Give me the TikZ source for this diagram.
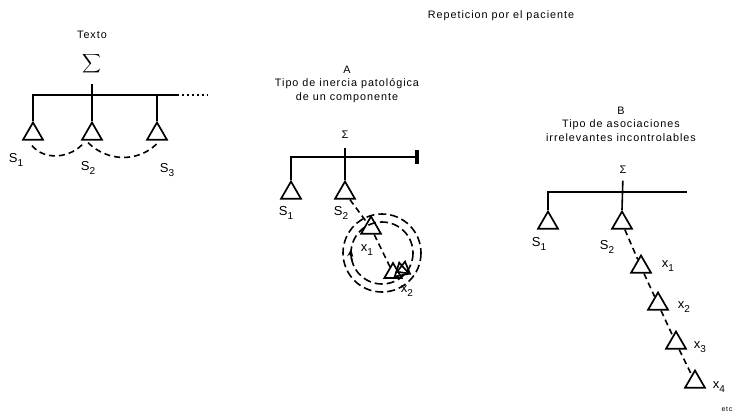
\documentclass[tikz,border=0pt]{standalone}
\usepackage{fontspec}
\usepackage{graphicx}
\setmainfont{Liberation Sans}[LetterSpace=9]
\newfontfamily\labfont{Liberation Sans}
\usetikzlibrary{shapes.geometric,arrows.meta}

% etiqueta con subindice
\newcommand{\lbl}[2]{{\labfont\fontsize{13}{13}\selectfont #1\raisebox{-3.5pt}{\fontsize{10}{10}\selectfont #2}}}

\begin{document}
\begin{tikzpicture}[x=1pt, y=-1pt, line width=1.6pt,
  tri/.style={draw, regular polygon, regular polygon sides=3, minimum size=23pt, inner sep=0pt, line width=1.7pt},
  lab/.style={inner sep=0pt},
  head/.style={font=\fontsize{10.8}{13.5}\selectfont, align=center, inner sep=0pt},
  sig/.style={inner sep=0pt, font=\labfont\fontsize{11}{11}\selectfont},
  chain/.style={dash pattern=on 6pt off 4pt, line width=1.6pt}]
  \useasboundingbox (0,0) rectangle (738,416);

  \node[head] (title) at (501,16) {Repeticion por el paciente};

  % izquierda: Texto
  \node[head] (texto) at (92,35) {Texto};
  \node[inner sep=0pt] (lsig) at (92,64) {\resizebox*{!}{21pt}{$\displaystyle\sum$}};
  \node[tri] (ls1) at (33,134) {};
  \node[tri] (ls2) at (92,134) {};
  \node[tri] (ls3) at (157,134) {};
  \coordinate (lend) at (177,95);
  \coordinate (ldots) at (208,95);
  \draw (ls1.north) |- (lend);
  \draw[shorten <=9pt] (lsig.south) -- (ls2.north);
  \draw (ls3.north) -- (ls3.north |- lend);
  \draw[dash pattern=on 1.5pt off 3.5pt] (lend) -- (ldots);
  % arcos
  \draw[chain] ([xshift=-1pt,yshift=-5pt]ls1.south) to[out=-50, in=-130] ([xshift=-8pt,yshift=-2pt]ls2.south);
  \draw[chain] ([xshift=-4pt,yshift=-2pt]ls2.south) to[out=-45, in=-135] ([yshift=-3pt]ls3.south);
  \node[lab] (ls1l) at (16,160) {\lbl{S}{1}};
  \node[lab] (ls2l) at (88,168) {\lbl{S}{2}};
  \node[lab] (ls3l) at (167,170) {\lbl{S}{3}};

  % A
  \node[head] (ahead) at (347,84) {A\\Tipo de inercia patológica\\de un componente};
  \node[sig] (msig) at (345,135) {Σ};
  \node[tri] (ms1) at (291,193) {};
  \node[tri] (ms2) at (345,193) {};
  \coordinate (mend) at (417,157);
  \draw (ms1.north) |- (mend);
  \draw[shorten <=8pt] (msig.south) -- (ms2.north);
  \draw[line width=4pt] ([yshift=7pt]mend) -- ([yshift=-7pt]mend);
  \node[tri] (mx1) at (371,228) {};
  \node[tri, minimum size=20pt] (mx2) at (393,273) {};
  \node[tri, minimum size=17pt, rotate=12] (mx2b) at (401,271) {};
  \node[tri, minimum size=15pt, rotate=-8] (mx2c) at (404,269) {};
  \draw[chain] (ms2) -- (mx1);
  \draw[chain] (mx1) -- (mx2);
  % circulos de inercia
  \draw[dash pattern=on 8pt off 4pt] (382,253) circle[radius=39];
  \draw[dash pattern=on 8pt off 4pt] (382,253) circle[radius=31];
  \draw[-{Stealth[length=8pt,width=6pt]}] (382,253) ++(165:31) arc[start angle=165, end angle=188, radius=31];
  \node[lab] (ms1l) at (286,213) {\lbl{S}{1}};
  \node[lab] (ms2l) at (341,213) {\lbl{S}{2}};
  \node[lab] (mx1l) at (367,250) {\lbl{x}{1}};
  \node[lab] (mx2l) at (407,291) {\lbl{x}{2}};

  % B
  \node[head] (bhead) at (621,124) {B\\Tipo de asociaciones\\irrelevantes incontrolables};
  \node[sig] (rsig) at (623,170) {Σ};
  \node[tri] (rs1) at (548,223) {};
  \node[tri] (rs2) at (622,223) {};
  \coordinate (rend) at (687,192);
  \draw (rs1.north) |- (rend);
  \draw[shorten <=6pt] (rsig.south) -- (rs2.north);
  \node[tri] (rx1) at (641,267) {};
  \node[tri] (rx2) at (658,304) {};
  \node[tri] (rx3) at (676,343) {};
  \node[tri] (rx4) at (695,382) {};
  \draw[chain] (rs2) -- (rx1);
  \draw[chain] (rx1) -- (rx2);
  \draw[chain] (rx2) -- (rx3);
  \draw[chain] (rx3) -- (rx4);
  \node[lab] (rs1l) at (539,244) {\lbl{S}{1}};
  \node[lab] (rs2l) at (607,247) {\lbl{S}{2}};
  \node[lab] (rx1l) at (668,266) {\lbl{x}{1}};
  \node[lab] (rx2l) at (684,307) {\lbl{x}{2}};
  \node[lab] (rx3l) at (700,347) {\lbl{x}{3}};
  \node[lab] (rx4l) at (719,387) {\lbl{x}{4}};
  \node[inner sep=0pt, font=\fontsize{7}{8}\selectfont] (etc) at (727,409) {etc};
\end{tikzpicture}
\end{document}
